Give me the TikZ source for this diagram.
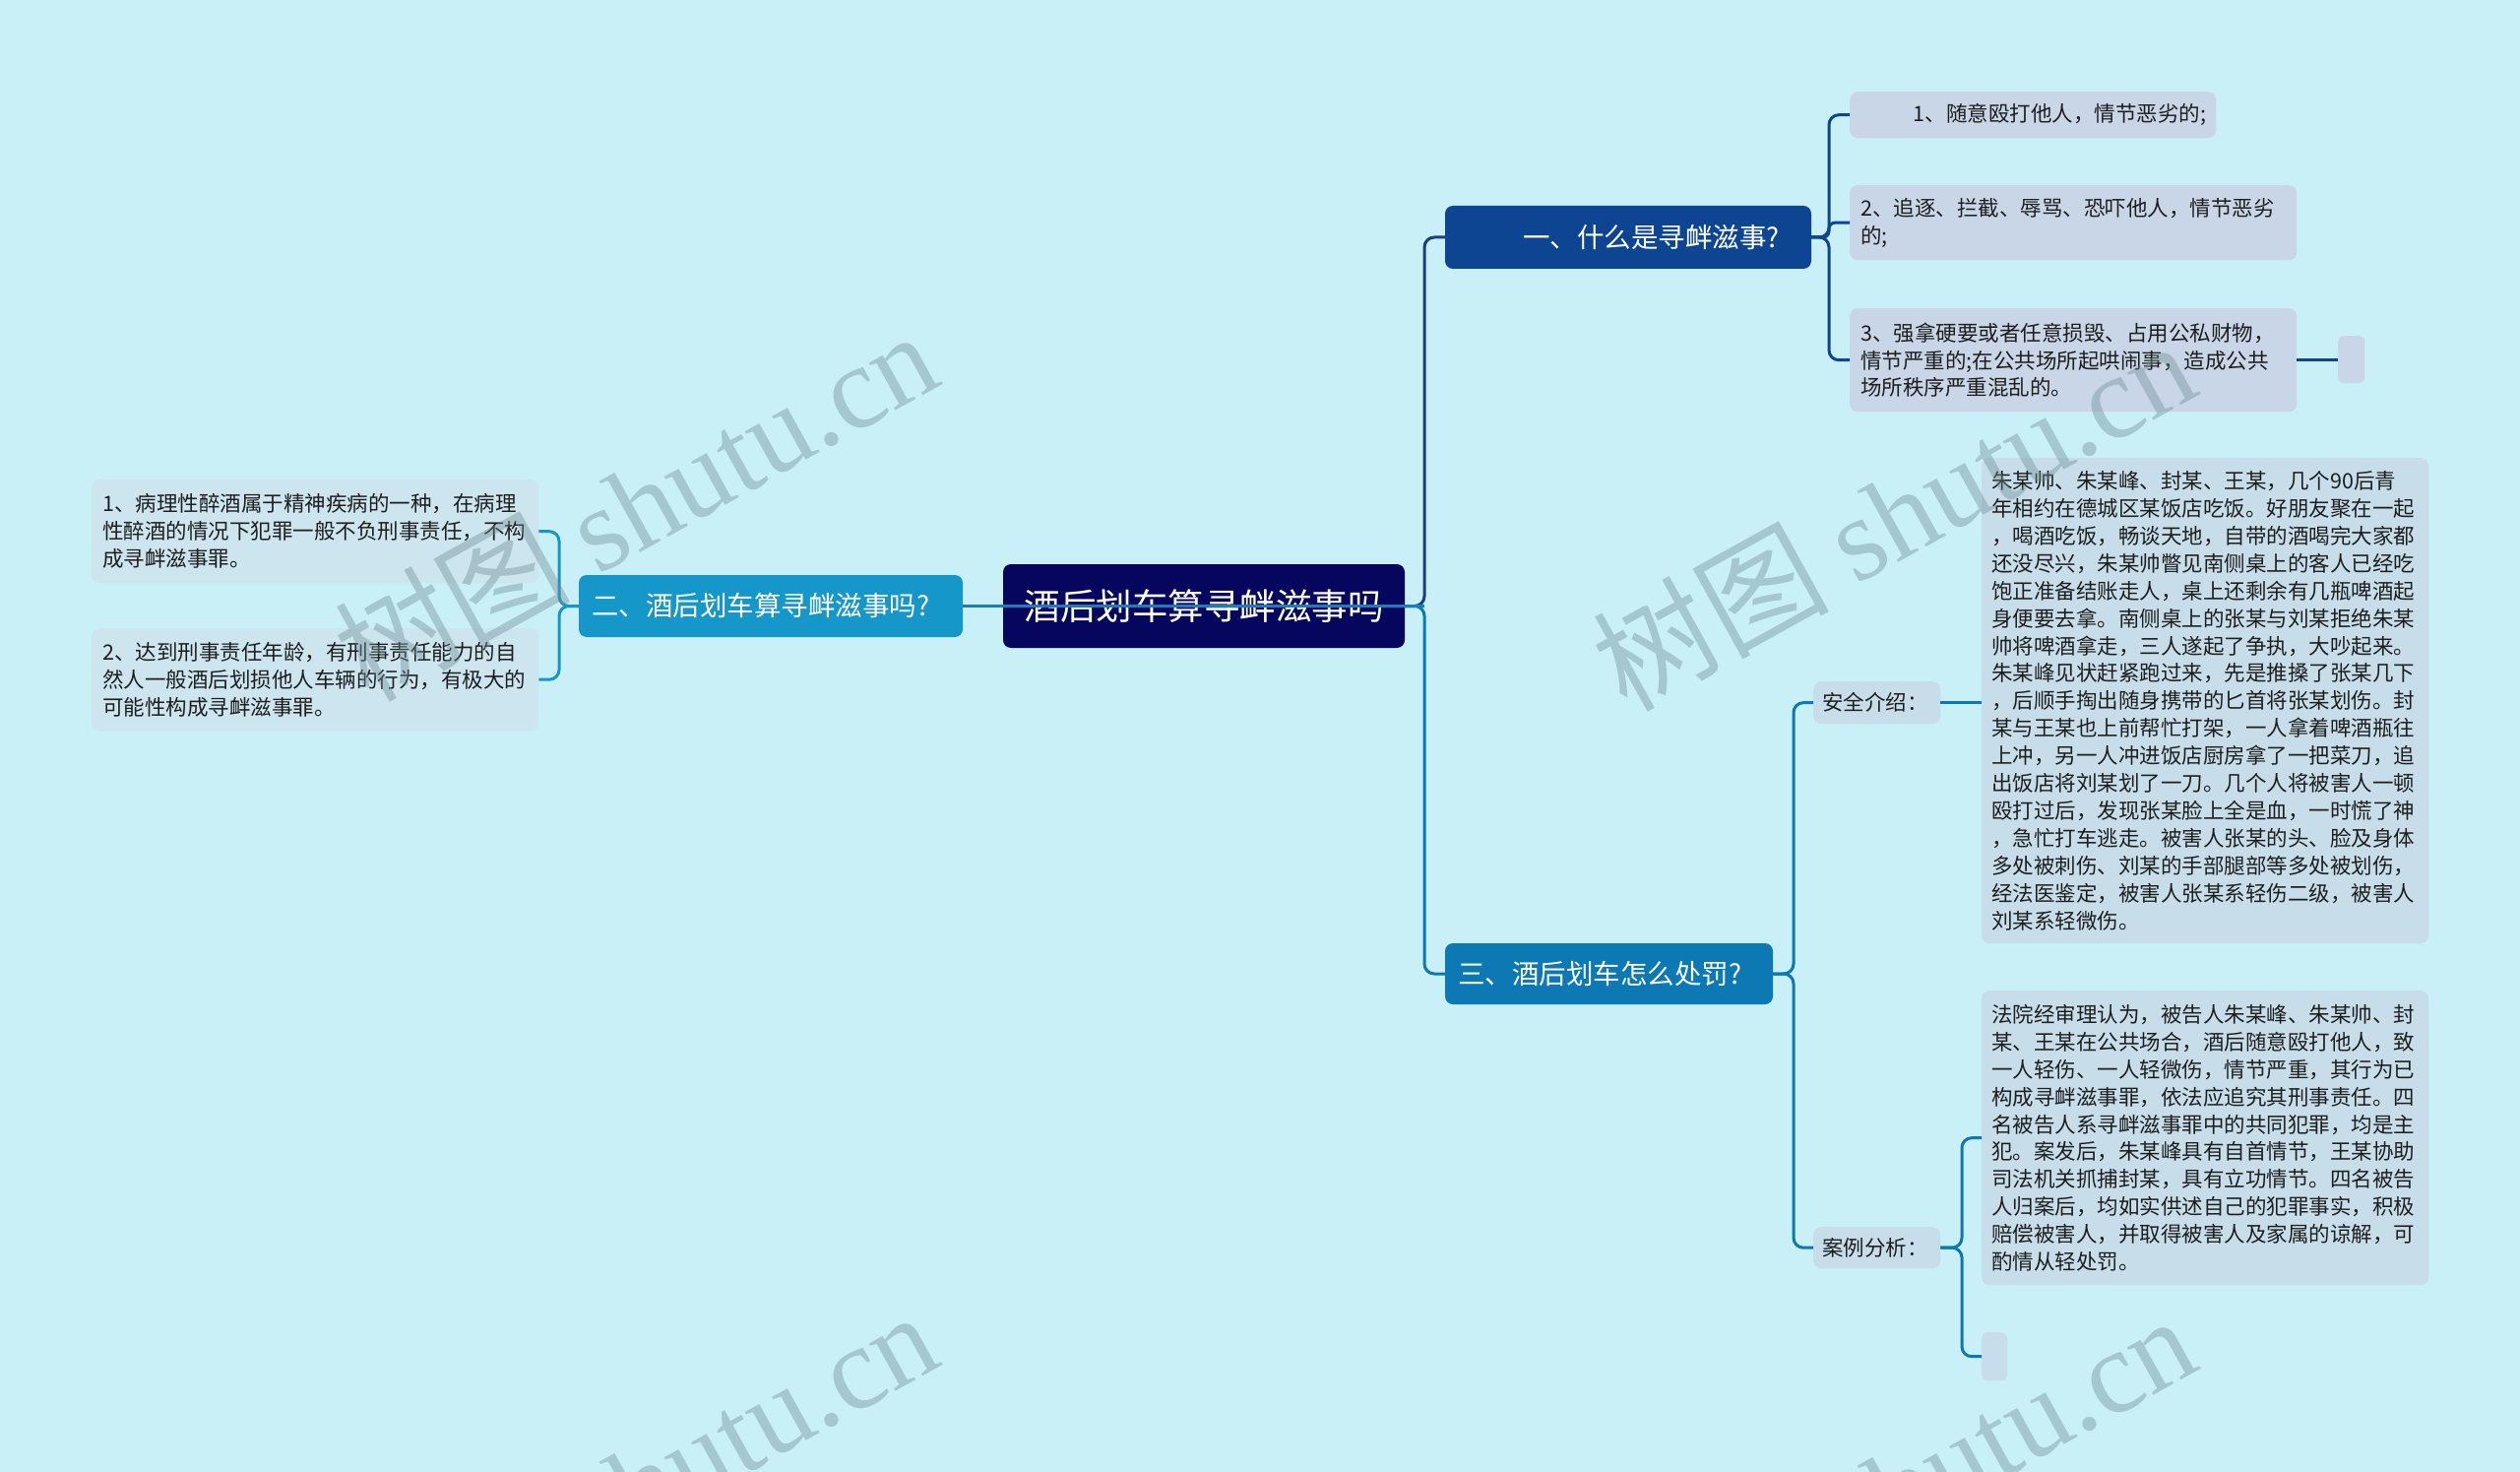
\documentclass[tikz,border=0pt]{standalone}
\usepackage{fontspec}
\setmainfont{Noto Sans CJK SC}
\newfontfamily\wmlatin{Liberation Serif}
\usetikzlibrary{calc}
\definecolor{bg}{HTML}{C9EFF7}
\definecolor{rootc}{HTML}{06065E}
\definecolor{b1c}{HTML}{0E4592}
\definecolor{b2c}{HTML}{1597C9}
\definecolor{b3c}{HTML}{0C78B4}
\definecolor{upc}{HTML}{1C3D7E}
\definecolor{crossc}{HTML}{1A7FB8}
\definecolor{leafa}{HTML}{C9D6E7}
\definecolor{leafb}{HTML}{CDE5EF}
\definecolor{leafc}{HTML}{C7DEEA}
\definecolor{txt}{HTML}{1E1E1E}
\definecolor{wmc}{HTML}{6F8C95}
\begin{document}
\begin{tikzpicture}[x=1pt,y=-1pt,
  rootbox/.style={fill=rootc, rounded corners=8, text=white, font=\fontsize{36.5}{40}\selectfont, inner sep=0, minimum width=408, minimum height=85},
  branchbox/.style={rounded corners=8, text=white, font=\fontsize{27.5}{30}\selectfont, inner ysep=0},
  leafbox/.style={rounded corners=8, text=txt, font=\fontsize{21.5}{27.9}\selectfont, inner ysep=0, inner xsep=11, align=left},
  emptybox/.style={rounded corners=6, inner sep=0},
  conn/.style={line width=3pt, rounded corners=10},
  wm/.style={text=wmc, text opacity=0.4, font=\fontsize{120}{120}\selectfont, inner sep=0}
]
\useasboundingbox (0,0) rectangle (2560,1495);
\fill[bg] (0,0) rectangle (2560,1495);

% trunk coordinates
\coordinate (tR) at (1447,0);
\coordinate (t1) at (1858,0);
\coordinate (t2) at (568,0);
\coordinate (t3) at (1822,0);
\coordinate (t4) at (1993,0);

% root
\node[rootbox] (R) at (1223,615.5) {酒后划车算寻衅滋事吗};

% branches
\node[branchbox, fill=b1c, minimum height=64, inner xsep=32, text width=308, align=right] (B1) at (1654,241) {一、什么是寻衅滋事?};
\node[branchbox, fill=b2c, minimum height=63, inner xsep=13, text width=364, align=left] (B2) at (783,615.5) {二、酒后划车算寻衅滋事吗?};
\node[branchbox, fill=b3c, minimum height=62, inner xsep=13, text width=307, align=left] (B3) at (1634.5,989) {三、酒后划车怎么处罚?};

% leaves of branch 1
\node[leafbox, fill=leafa, anchor=north west, inner xsep=10, text width=352, align=right, minimum height=47] (L1) at (1879,93) {1、随意殴打他人，情节恶劣的;};
\node[leafbox, fill=leafa, anchor=north west, text width=432, minimum height=76] (L2) at (1879,188) {2、追逐、拦截、辱骂、恐吓他人，情节恶劣\\的;};
\node[leafbox, fill=leafa, anchor=north west, text width=432, minimum height=105] (L3) at (1879,313) {3、强拿硬要或者任意损毁、占用公私财物，\\情节严重的;在公共场所起哄闹事，造成公共\\场所秩序严重混乱的。};
\node[emptybox, fill=leafa, anchor=north west, minimum width=27, minimum height=48] (E1) at (2375,341) {};

% leaves of branch 2
\node[leafbox, fill=leafb, anchor=north west, text width=432, minimum height=105] (A1) at (93,487) {1、病理性醉酒属于精神疾病的一种，在病理\\性醉酒的情况下犯罪一般不负刑事责任，不构\\成寻衅滋事罪。};
\node[leafbox, fill=leafb, anchor=north west, text width=432, minimum height=104] (A2) at (93,638) {2、达到刑事责任年龄，有刑事责任能力的自\\然人一般酒后划损他人车辆的行为，有极大的\\可能性构成寻衅滋事罪。};

% children of branch 3
\node[leafbox, fill=leafc, anchor=north west, inner xsep=9, text width=111, minimum height=43] (S1) at (1842,692) {安全介绍：};
\node[leafbox, fill=leafc, anchor=north west, inner xsep=9, text width=111, minimum height=42] (S2) at (1842,1246) {案例分析：};

\node[leafbox, fill=leafc, anchor=north west, inner xsep=10, text width=434, minimum height=493] (S1t) at (2013,465) {朱某帅、朱某峰、封某、王某，几个90后青\\年相约在德城区某饭店吃饭。好朋友聚在一起\\，喝酒吃饭，畅谈天地，自带的酒喝完大家都\\还没尽兴，朱某帅瞥见南侧桌上的客人已经吃\\饱正准备结账走人，桌上还剩余有几瓶啤酒起\\身便要去拿。南侧桌上的张某与刘某拒绝朱某\\帅将啤酒拿走，三人遂起了争执，大吵起来。\\朱某峰见状赶紧跑过来，先是推搡了张某几下\\，后顺手掏出随身携带的匕首将张某划伤。封\\某与王某也上前帮忙打架，一人拿着啤酒瓶往\\上冲，另一人冲进饭店厨房拿了一把菜刀，追\\出饭店将刘某划了一刀。几个人将被害人一顿\\殴打过后，发现张某脸上全是血，一时慌了神\\，急忙打车逃走。被害人张某的头、脸及身体\\多处被刺伤、刘某的手部腿部等多处被划伤，\\经法医鉴定，被害人张某系轻伤二级，被害人\\刘某系轻微伤。};

\node[leafbox, fill=leafc, anchor=north west, inner xsep=10, text width=434, minimum height=299] (S2t) at (2013,1006) {法院经审理认为，被告人朱某峰、朱某帅、封\\某、王某在公共场合，酒后随意殴打他人，致\\一人轻伤、一人轻微伤，情节严重，其行为已\\构成寻衅滋事罪，依法应追究其刑事责任。四\\名被告人系寻衅滋事罪中的共同犯罪，均是主\\犯。案发后，朱某峰具有自首情节，王某协助\\司法机关抓捕封某，具有立功情节。四名被告\\人归案后，均如实供述自己的犯罪事实，积极\\赔偿被害人，并取得被害人及家属的谅解，可\\酌情从轻处罚。};
\node[emptybox, fill=leafc, anchor=north west, minimum width=26, minimum height=49] (E2) at (2013,1353) {};

% connectors: root trunk
\draw[conn, upc] (R.east) -- (tR |- R.east) |- (B1.west);
\draw[conn, b3c] (R.east) -- (tR |- R.east) |- (B3.west);
% branch 1
\draw[conn, b1c] (B1.east) -- (t1 |- B1.east) |- (L1.west);
\draw[conn, b1c, rounded corners=6] (B1.east) -- (t1 |- B1.east) |- (L2.west);
\draw[conn, b1c] (B1.east) -- (t1 |- B1.east) |- (L3.west);
\draw[conn, b1c] (L3.east) -- (L3.east -| E1.west);
% branch 2
\draw[conn, b2c] (B2.west) -- (t2 |- B2.west) |- (A1.east);
\draw[conn, b2c] (B2.west) -- (t2 |- B2.west) |- (A2.east);
% branch 3
\draw[conn, b3c] (B3.east) -- (t3 |- B3.east) |- (S1.west);
\draw[conn, b3c] (B3.east) -- (t3 |- B3.east) |- (S2.west);
\draw[conn, b3c] (S1.east) -- (S1.east -| S1t.west);
\draw[conn, b3c] (S2.east) -- (t4 |- S2.east) |- (S2t.west);
\draw[conn, b3c] (S2.east) -- (t4 |- S2.east) |- (E2.west);
% line from branch 2 running across the root
\draw[line width=3pt, crossc] (B2.east) -- (tR |- B2.east);

% watermarks
\begin{scope}
\clip (0,0) rectangle (2560,1495);
\node[wm, rotate=29] (w1) at (645,512) {树图 {\wmlatin shutu.cn}};
\node[wm, rotate=29] (w2) at (1923,522) {树图 {\wmlatin shutu.cn}};
\node[wm, rotate=29] (w3) at (645,1508) {树图 {\wmlatin shutu.cn}};
\node[wm, rotate=29] (w4) at (1923,1512) {树图 {\wmlatin shutu.cn}};
\end{scope}
\end{tikzpicture}
\end{document}
